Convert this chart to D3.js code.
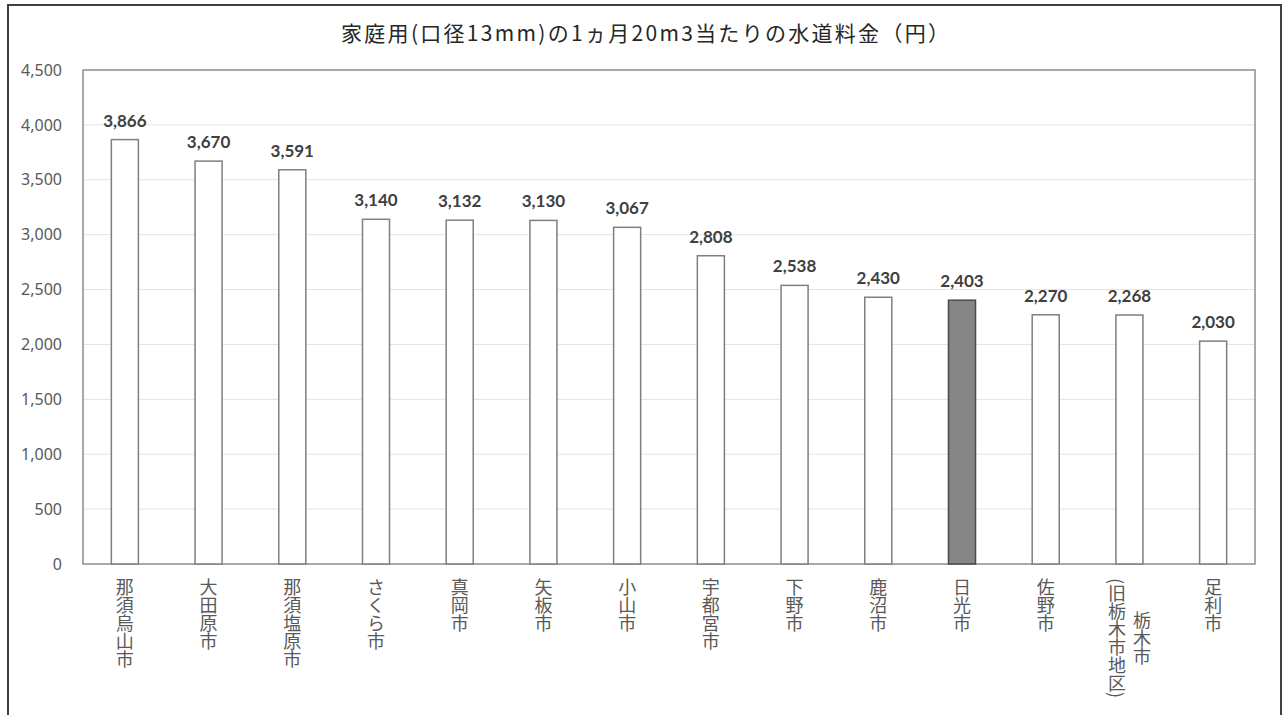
<!DOCTYPE html>
<html>
<head>
<meta charset="utf-8">
<script src="https://cdn.jsdelivr.net/npm/d3@7"></script>
<style>
  html, body { margin: 0; padding: 0; background: #fff; }
  svg { display: block; }
</style>
</head>
<body>
<svg id="chart" width="1284" height="715"></svg>
<script>
// 1か月20m3あたりの家庭用水道料金（口径13mm）
const categories = [
  ["那須烏山市"], ["大田原市"], ["那須塩原市"], ["さくら市"], ["真岡市"],
  ["矢板市"], ["小山市"], ["宇都宮市"], ["下野市"], ["鹿沼市"],
  ["日光市"], ["佐野市"], ["栃木市", "(旧栃木市地区)"], ["足利市"]
];
const values = [3866, 3670, 3591, 3140, 3132, 3130, 3067, 2808, 2538, 2430, 2403, 2270, 2268, 2030];
const yTicks = [0, 500, 1000, 1500, 2000, 2500, 3000, 3500, 4000, 4500];
const highlighted = "日光市";
const titleText = "家庭用(口径13mm)の1ヵ月20m3当たりの水道料金（円）";

const svg = d3.select("#chart");
const plot = { left: 83, right: 1255, top: 70, bottom: 564 };

const rows = categories.map((lines, i) => ({ key: lines[0], lines, value: values[i] }));

const x = d3.scaleBand()
  .domain(rows.map(d => d.key))
  .range([plot.left, plot.right])
  .paddingInner(0.677)
  .paddingOuter(0.3385);

const y = d3.scaleLinear()
  .domain([0, 4500])
  .range([plot.bottom, plot.top]);

// outer frame
svg.append("rect")
  .attr("x", 8).attr("y", 5)
  .attr("width", 1273).attr("height", 720)
  .attr("fill", "#fff")
  .attr("stroke", "#404040")
  .attr("stroke-width", 2);

// title
svg.append("text")
  .attr("x", 645).attr("y", 41)
  .attr("text-anchor", "middle")
  .attr("font-family", "'Noto Sans CJK JP', sans-serif")
  .attr("font-size", 21)
  .attr("textLength", 608)
  .attr("lengthAdjust", "spacing")
  .attr("fill", "#262626")
  .text(titleText);

// gridlines
svg.append("g")
  .selectAll("line")
  .data(yTicks.filter(t => t > 0 && t < 4500))
  .join("line")
  .attr("x1", plot.left).attr("x2", plot.right)
  .attr("y1", d => y(d)).attr("y2", d => y(d))
  .attr("stroke", "#e3e3e3")
  .attr("stroke-width", 1);

// y axis labels
const yAxis = d3.axisLeft(y)
  .tickValues(yTicks)
  .tickFormat(d3.format(","))
  .tickSize(0)
  .tickPadding(21);
const yg = svg.append("g")
  .attr("transform", `translate(${plot.left},0)`)
  .call(yAxis);
yg.select(".domain").remove();
yg.selectAll("text")
  .attr("font-family", "'Noto Sans', sans-serif")
  .attr("font-size", 16)
  .attr("fill", "#595959");

// plot area border
svg.append("rect")
  .attr("x", plot.left).attr("y", plot.top)
  .attr("width", plot.right - plot.left)
  .attr("height", plot.bottom - plot.top)
  .attr("fill", "none")
  .attr("stroke", "#8c8c8c")
  .attr("stroke-width", 1.5);

// bars
svg.append("g")
  .selectAll("rect")
  .data(rows)
  .join("rect")
  .attr("x", d => x(d.key))
  .attr("width", x.bandwidth())
  .attr("y", d => y(d.value))
  .attr("height", d => y(0) - y(d.value))
  .attr("fill", d => d.key === highlighted ? "#858585" : "#fff")
  .attr("stroke", d => d.key === highlighted ? "#4a4a4a" : "#7f7f7f")
  .attr("stroke-width", 1.5);

// value labels
svg.append("g")
  .selectAll("text")
  .data(rows)
  .join("text")
  .attr("x", d => x(d.key) + x.bandwidth() / 2)
  .attr("y", d => y(d.value) - 13)
  .attr("text-anchor", "middle")
  .attr("font-family", "Lato, sans-serif")
  .attr("font-weight", 700)
  .attr("font-size", 17)
  .attr("fill", "#404040")
  .text(d => d3.format(",")(d.value));

// category labels, set vertically; lines of one label are centred on each other
const labelFont = 18, labelTop = 578, lineGap = 25;
const lab = svg.append("g");
rows.forEach(d => {
  const cx = x(d.key) + x.bandwidth() / 2;
  const n = d.lines.length;
  const nodes = d.lines.map((s, j) => {
    // first line sits on the right (vertical-rl order)
    const lx = cx + ((n - 1) / 2 - j) * lineGap;
    return lab.append("text")
      .attr("x", lx)
      .attr("writing-mode", "vertical-rl")
      .attr("text-anchor", "middle")
      .attr("font-family", "'Noto Sans CJK JP', sans-serif")
      .attr("font-size", labelFont)
      .attr("fill", "#595959")
      .text(s);
  });
  const extent = d3.max(nodes, t => t.node().getComputedTextLength());
  nodes.forEach(t => t.attr("y", labelTop + extent / 2));
});
</script>
</body>
</html>
